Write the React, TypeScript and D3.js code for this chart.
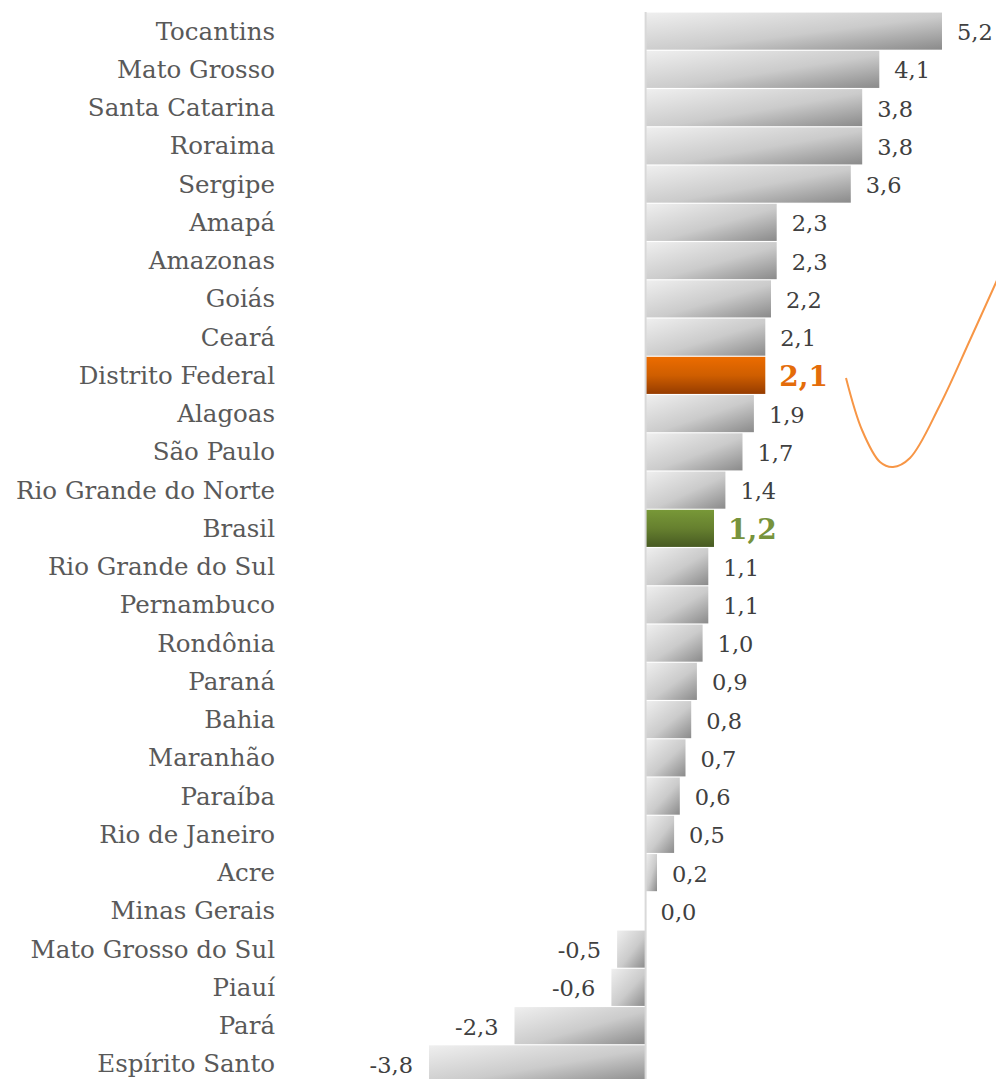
import React from "react";
import * as d3 from "d3";

const categories = [
  "Tocantins", "Mato Grosso", "Santa Catarina", "Roraima", "Sergipe", "Amapá", "Amazonas",
  "Goiás", "Ceará", "Distrito Federal", "Alagoas", "São Paulo", "Rio Grande do Norte", "Brasil",
  "Rio Grande do Sul", "Pernambuco", "Rondônia", "Paraná", "Bahia", "Maranhão", "Paraíba",
  "Rio de Janeiro", "Acre", "Minas Gerais", "Mato Grosso do Sul", "Piauí", "Pará", "Espírito Santo",
];
const values = [
  5.2, 4.1, 3.8, 3.8, 3.6, 2.3, 2.3, 2.2, 2.1, 2.1, 1.9, 1.7, 1.4, 1.2,
  1.1, 1.1, 1.0, 0.9, 0.8, 0.7, 0.6, 0.5, 0.2, 0.0, -0.5, -0.6, -2.3, -3.8,
];
const highlightOrange = ["Distrito Federal"];
const highlightGreen = ["Brasil"];
// decorative hand-drawn stroke (pixel path)
const decoCurve: [number, number][] = [
  [846, 378], [862, 430], [880, 462], [893, 467], [910, 458], [940, 405], [970, 340], [998, 278],
];

const W = 996;
const H = 1079;
const FONT = "'DejaVu Serif', serif";

export default function App() {
  const x = d3.scaleLinear().domain([-3.8, 5.2]).range([429, 942]);
  const y = d3.scaleBand<string>().domain(categories).range([12, 1083]).paddingInner(0.03).paddingOuter(0.015);
  const fmt = (v: number) => v.toFixed(1).replace(".", ",");
  const line = d3.line().curve(d3.curveCatmullRom.alpha(0.5));
  const data = categories.map((c, i) => ({ c, v: values[i] }));

  return (
    <svg width={W} height={H} style={{ position: "absolute", left: 0, top: 0, background: "#fff" }}>
      <defs>
        <linearGradient id="gGray" x1="0" y1="0" x2="1" y2="1">
          <stop offset="0" stopColor="#efefef" />
          <stop offset="0.55" stopColor="#cbcbcb" />
          <stop offset="1" stopColor="#8a8a8a" />
        </linearGradient>
        <linearGradient id="gOrange" x1="0" y1="0" x2="0" y2="1">
          <stop offset="0" stopColor="#ec6c00" />
          <stop offset="0.5" stopColor="#cf5e00" />
          <stop offset="1" stopColor="#963c00" />
        </linearGradient>
        <linearGradient id="gGreen" x1="0" y1="0" x2="0" y2="1">
          <stop offset="0" stopColor="#789838" />
          <stop offset="0.5" stopColor="#66802f" />
          <stop offset="1" stopColor="#475a22" />
        </linearGradient>
      </defs>
      {data.map((d) => {
        const y0 = y(d.c)!;
        const isO = highlightOrange.includes(d.c);
        const isG = highlightGreen.includes(d.c);
        const fill = isO ? "url(#gOrange)" : isG ? "url(#gGreen)" : "url(#gGray)";
        const x0 = x(Math.min(0, d.v));
        const w = Math.abs(x(d.v) - x(0));
        const cy = y0 + y.bandwidth() / 2;
        const big = isO || isG;
        const lblColor = isO ? "#e46c0a" : isG ? "#77933c" : "#404040";
        const pos = d.v >= 0;
        return (
          <g key={d.c}>
            {w > 0 && <rect x={x0} y={y0} width={w} height={y.bandwidth()} fill={fill} />}
            <text x={275} y={cy} dy="0.35em" textAnchor="end" fontFamily={FONT} fontSize={24.5} fill="#595959">
              {d.c}
            </text>
            <text
              x={pos ? x(d.v) + (big ? 14 : 15) : x(d.v) - 16}
              y={cy + 1}
              dy="0.35em"
              textAnchor={pos ? "start" : "end"}
              fontFamily={FONT}
              fontSize={big ? 28 : 22.5}
              fontWeight={big ? "bold" : "normal"}
              fill={lblColor}
            >
              {fmt(d.v)}
            </text>
          </g>
        );
      })}
      <line x1={x(0)} x2={x(0)} y1={12} y2={H} stroke="#d9d9d9" strokeWidth={2} />
      <path d={line(decoCurve)!} fill="none" stroke="#f79646" strokeWidth={2} />
    </svg>
  );
}
